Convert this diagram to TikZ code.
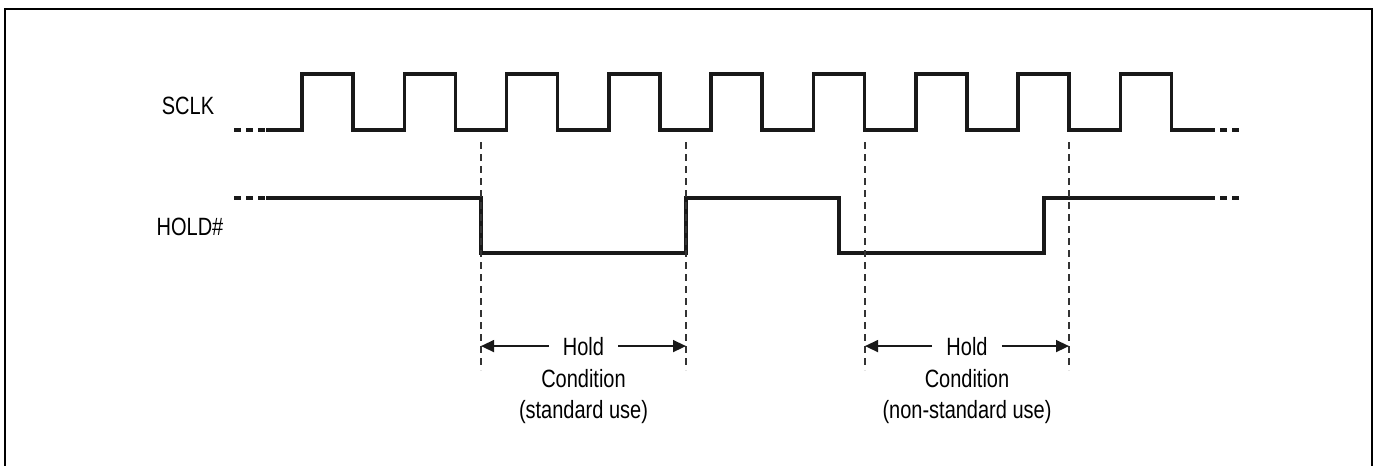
\documentclass[tikz,border=0pt]{standalone}
\usepackage{fontspec}
\setmainfont{Liberation Sans}[FakeStretch=0.8]
\usetikzlibrary{positioning, arrows.meta, calc}

\begin{document}
\begin{tikzpicture}[x=1pt, y=-1pt,
  signal/.style={line width=3.5pt, line join=miter, draw=black!90},
  dots/.style={line width=3.5pt, draw=black!90, dash pattern=on 7pt off 5pt},
  guide/.style={line width=1.2pt, draw=black!80, dash pattern=on 7pt off 5pt},
  span/.style={line width=1.4pt, draw=black!90, -{Triangle[length=13pt, width=12pt]}},
  label/.style={font=\fontsize{25}{32}\selectfont, text=black},
]

% Define the size of the waveforms
\def\period{102.3}
\def\clkLow{130}
\def\clkHigh{74}
\def\holdHigh{198}
\def\holdLow{253}

\useasboundingbox (0,0) rectangle (1377,466);

% Frame (bottom edge is off the page)
\draw[line width=2pt] (5,466) -- (5,9) -- (1372,9) -- (1372,466);

% Signal names
\node[label] (sclk) at (188,106) {SCLK};
\node[label] (holdn) at (190,227) {HOLD\#};

% SCLK waveform
\draw[dots] (234,\clkLow) -- (268,\clkLow);
\draw[signal] (266,\clkLow)
  \foreach \k in {0,...,8} {
    -- ({302+\k*\period},\clkLow) -- ({302+\k*\period},\clkHigh)
    -- ({353+\k*\period},\clkHigh) -- ({353+\k*\period},\clkLow)
  } -- (1208,\clkLow);
\draw[dots] (1208,\clkLow) -- (1240,\clkLow);

% HOLD# waveform
\draw[dots] (234,\holdHigh) -- (268,\holdHigh);
\draw[signal] (266,\holdHigh) -- (481,\holdHigh) -- (481,\holdLow) -- (686,\holdLow)
  -- (686,\holdHigh) -- (839,\holdHigh) -- (839,\holdLow) -- (1044,\holdLow)
  -- (1044,\holdHigh) -- (1208,\holdHigh);
\draw[dots] (1208,\holdHigh) -- (1240,\holdHigh);

% Timing guides
\foreach \name/\x in {ga/481, gb/686, gc/865, gd/1069} {
  \coordinate (\name top) at (\x,142);
  \coordinate (\name bot) at (\x,370);
  \draw[guide] (\name top) -- (\name bot);
}

% Hold condition (standard use)
\node[label, anchor=base, inner xsep=14pt] (hold1) at (583.5,355) {Hold};
\node[label, anchor=base] (cond1) at (583.5,387) {Condition};
\node[label, anchor=base] (use1) at (583.5,418) {(standard use)};
\draw[span] (hold1.west) -- (hold1.west -| gatop);
\draw[span] (hold1.east) -- (hold1.east -| gbtop);

% Hold condition (non-standard use)
\node[label, anchor=base, inner xsep=14pt] (hold2) at (967,355) {Hold};
\node[label, anchor=base] (cond2) at (967,387) {Condition};
\node[label, anchor=base] (use2) at (967,418) {(non-standard use)};
\draw[span] (hold2.west) -- (hold2.west -| gctop);
\draw[span] (hold2.east) -- (hold2.east -| gdtop);

\end{tikzpicture}
\end{document}
